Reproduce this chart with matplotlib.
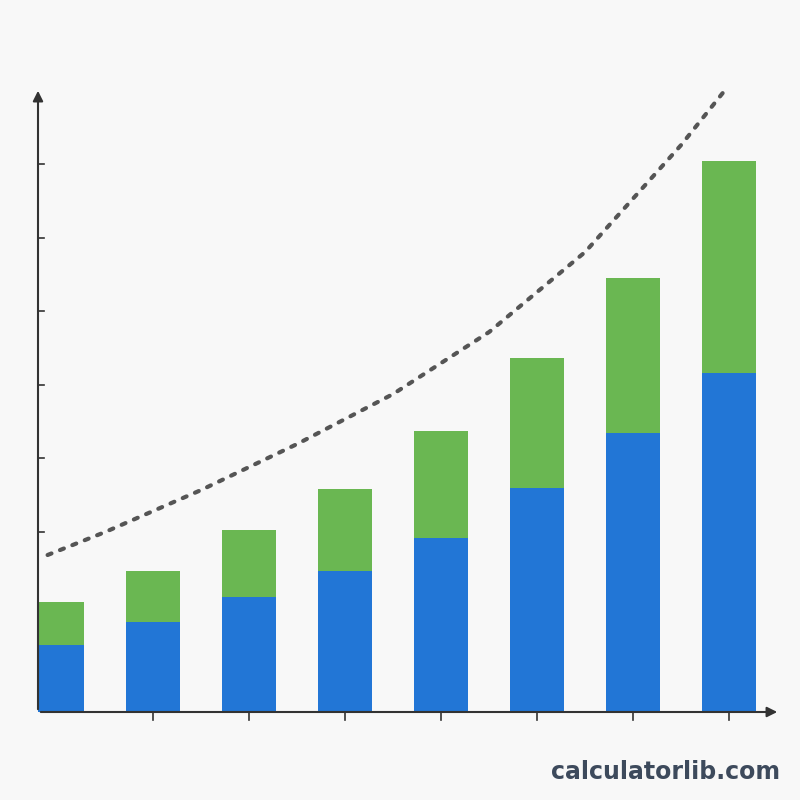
import numpy as np
import matplotlib.pyplot as plt

# bar values (arbitrary units)
blue = [67, 90, 115, 141, 174, 224, 279, 339]
green = [43, 51, 67, 82, 107, 130, 155, 212]
positions = np.arange(8)

# dotted trend curve
curve_x = [-0.1, 0.5, 1.5, 2.5, 3.5, 4.5, 5.5, 6.5, 7.0]
curve_y = [157, 180, 222, 268, 318, 380, 460, 567, 627]

y_ticks = [180, 254, 327, 401, 474, 548]

fig = plt.figure(figsize=(8, 8), dpi=100)
fig.patch.set_facecolor('#f8f8f8')
ax = fig.add_axes([38 / 800, 88 / 800, (780 - 38) / 800, (712 - 88) / 800])
ax.set_facecolor('#f8f8f8')

ax.bar(positions, blue, width=0.56, color='#2276d6')
ax.bar(positions, green, width=0.56, bottom=blue, color='#6ab752')
ax.plot(curve_x, curve_y, linestyle=(0, (1, 2.2)), color='#555555', linewidth=3,
        dash_capstyle='round')

ax.set_xlim(-0.2, 7.53)
ax.set_ylim(0, 624)
for s in ax.spines.values():
    s.set_visible(False)
ax.set_xticks([])
ax.set_yticks([])

# axes with arrows
ax.annotate('', xy=(7.53, 0), xytext=(-0.2, 0),
            arrowprops=dict(arrowstyle='-|>', color='#333333', lw=1.5, mutation_scale=15))
ax.annotate('', xy=(-0.2, 624), xytext=(-0.2, 0),
            arrowprops=dict(arrowstyle='-|>', color='#333333', lw=1.5, mutation_scale=15))
for t in y_ticks:
    ax.plot([-0.2, -0.14], [t, t], color='#333333', lw=1.2, clip_on=False)
for p in positions[1:]:
    ax.plot([p, p], [0, -8], color='#333333', lw=1.2, clip_on=False)

fig.text(0.975, 0.035, 'calculatorlib.com', ha='right', va='center',
         fontsize=17, fontweight='bold', color='#3d4a5c')

fig.savefig('out.png', dpi=100, facecolor=fig.get_facecolor())
